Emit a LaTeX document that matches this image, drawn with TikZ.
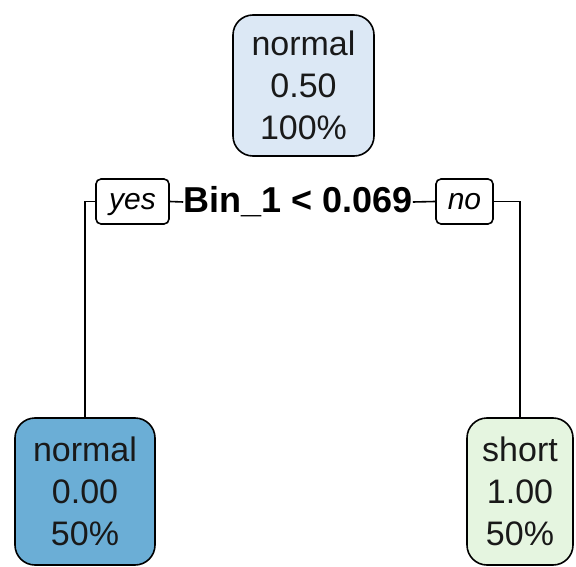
\documentclass[tikz,border=0pt]{standalone}
\usepackage{fontspec}
\setmainfont{Liberation Sans}
\definecolor{rootfill}{HTML}{DCE8F5}
\definecolor{leftfill}{HTML}{6BAED6}
\definecolor{rightfill}{HTML}{E5F5E0}
\begin{document}
\begin{tikzpicture}[x=1pt,y=-1pt,
  leafbox/.style={draw=black, line width=1.6pt, rounded corners=20pt, align=center,
    font=\fontsize{34}{42}\selectfont, inner sep=0pt, minimum height=147pt, text=black!90},
  lblbox/.style={draw=black, line width=1.6pt, rounded corners=5pt, inner sep=0pt,
    font=\fontsize{30}{30}\selectfont\itshape, minimum height=45pt, text height=16pt, text depth=0pt},
  conn/.style={draw=black, line width=1.6pt}]
\useasboundingbox (0,0) rectangle (576,567);
\node[leafbox, fill=rootfill, minimum width=141pt, minimum height=141pt] (root) at (303.5,85.5) {normal\\0.50\\100\%};
\node[leafbox, fill=leftfill, minimum width=140pt] (left) at (85,491.5) {normal\\0.00\\50\%};
\node[leafbox, fill=rightfill, minimum width=106pt] (right) at (520,491.5) {short\\1.00\\50\%};
\node[font=\fontsize{36}{38}\selectfont\bfseries, inner sep=0pt] (cond) at (298,202) {Bin\_1 < 0.069};
\node[lblbox, minimum width=73pt] (yes) at (132.5,201.5) {yes};
\node[lblbox, minimum width=57pt] (no) at (464.5,201.5) {no};
\draw[conn] (yes.west) -| (left.north);
\draw[conn] (yes.east) -- (cond.west);
\draw[conn] (cond.east) -- (no.west);
\draw[conn] (no.east) -| (right.north);
\end{tikzpicture}
\end{document}
